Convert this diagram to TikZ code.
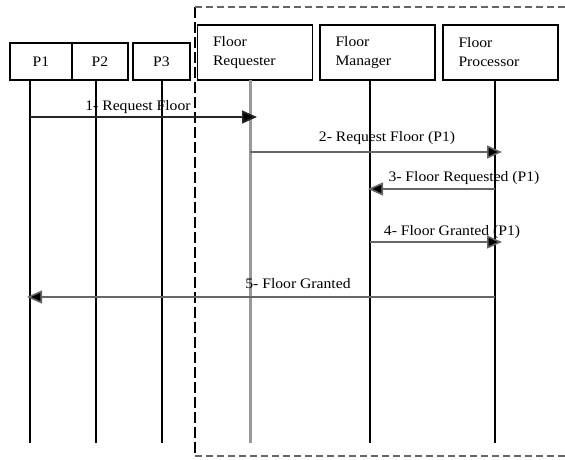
\documentclass[tikz,border=0pt]{standalone}
\usepackage{fontspec}
\setmainfont{Liberation Serif}[FakeStretch=1.08]
\usetikzlibrary{arrows.meta}
\begin{document}
\begin{tikzpicture}[x=1pt,y=-1pt,
  every node/.style={font=\fontsize{14.5}{19}\selectfont},
  obj/.style={draw=black, line width=1.2pt, inner sep=0pt},
  sobj/.style={obj, minimum height=37pt},
  bobj/.style={obj, minimum width=115pt, minimum height=55pt, align=left, text width=84pt},
  life/.style={line width=1.3pt, draw=black},
  glife/.style={line width=3pt, draw=black!40},
  msg/.style={line width=1.6pt, draw=black!60, -{Triangle[length=15pt,width=13pt,fill=black]}, shorten >=-7pt},
  lbl/.style={inner sep=1pt},
  vregion/.style={line width=1.2pt, dash pattern=on 11pt off 4pt},
  hregion/.style={line width=1.2pt, draw=black!60, dash pattern=on 7pt off 4pt}]
\useasboundingbox (0,0) rectangle (565,460);
% region
\draw[vregion] (195,7) -- (195,456);
\draw[hregion] (195,7) -- (565,7);
\draw[hregion] (195,456) -- (565,456);
% objects
\node[sobj, minimum width=62pt] (p1) at (41,61.5) {P1};
\node[sobj, minimum width=56pt] (p2) at (100,61.5) {P2};
\node[sobj, minimum width=57pt] (p3) at (161.5,61.5) {P3};
\node[bobj] (fr) at (255,52.5) {Floor\\Requester};
\node[bobj] (fm) at (377.5,52.5) {Floor\\Manager};
\node[bobj] (fp) at (500.5,52.5) {Floor\\Processor};
% lifeline ends
\coordinate (p1t) at (30,80);  \coordinate (p1b) at (30,443);
\coordinate (p2t) at (96,80);  \coordinate (p2b) at (96,443);
\coordinate (p3t) at (162,80); \coordinate (p3b) at (162,443);
\coordinate (frt) at (250,80); \coordinate (frb) at (250,443);
\coordinate (fmt) at (370,80); \coordinate (fmb) at (370,443);
\coordinate (fpt) at (495,80); \coordinate (fpb) at (495,443);
\draw[life] (p1t) -- (p1b);
\draw[life] (p2t) -- (p2b);
\draw[life] (p3t) -- (p3b);
\draw[glife] (frt) -- (frb);
\draw[life] (fmt) -- (fmb);
\draw[life] (fpt) -- (fpb);
% message points
\coordinate (m1a) at (30,117);  \coordinate (m1b) at (250,117);
\coordinate (m2a) at (250,152); \coordinate (m2b) at (495,152);
\coordinate (m3a) at (495,189); \coordinate (m3b) at (370,189);
\coordinate (m4a) at (370,242); \coordinate (m4b) at (495,242);
\coordinate (m5a) at (495,297); \coordinate (m5b) at (30,297);
\draw[msg, draw=black!85] (m1a) -- (m1b);
\draw[msg] (m2a) -- (m2b);
\draw[msg, shorten >=-2pt] (m3a) -- (m3b);
\draw[msg] (m4a) -- (m4b);
\draw[msg, shorten >=-3pt] (m5a) -- (m5b);
% labels
\node[lbl] (l1) at (138,107) {1- Request Floor};
\node[lbl] (l2) at (387,138) {2- Request Floor (P1)};
\node[lbl] (l3) at (464,178) {3- Floor Requested (P1)};
\node[lbl] (l4) at (452,232) {4- Floor Granted (P1)};
\node[lbl] (l5) at (298,284) {5- Floor Granted};
\end{tikzpicture}
\end{document}
